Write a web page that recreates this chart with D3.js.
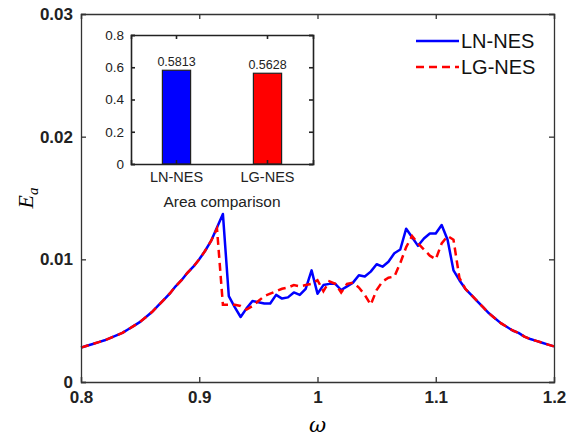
<!DOCTYPE html>
<html lang="en">
<head>
<meta charset="UTF-8">
<title>E_a vs omega</title>
<script src="https://d3js.org/d3.v7.min.js"></script>
<style>
  body { margin: 0; background: #fff; }
  text { font-family: Arial, "Liberation Sans", sans-serif; }
</style>
</head>
<body>
<div id="chart"></div>
<script>
// frequency grid
const omega = [
  0.80, 0.805, 0.81, 0.815, 0.82, 0.825, 0.83, 0.835, 0.84, 0.845,
  0.85, 0.855, 0.86, 0.865, 0.87, 0.875, 0.88, 0.885, 0.89, 0.895, 0.90,
  0.905, 0.91, 0.915, 0.92, 0.925, 0.93, 0.935, 0.94, 0.945, 0.95,
  0.955, 0.96, 0.965, 0.97, 0.975, 0.98, 0.985, 0.99, 0.995, 1.00,
  1.005, 1.01, 1.015, 1.02, 1.025, 1.03, 1.035, 1.04, 1.045, 1.05,
  1.055, 1.06, 1.065, 1.07, 1.075, 1.08, 1.085, 1.09, 1.095, 1.10,
  1.105, 1.11, 1.115, 1.12, 1.125, 1.13, 1.135, 1.14, 1.145, 1.15,
  1.155, 1.16, 1.165, 1.17, 1.175, 1.18, 1.185, 1.19, 1.195, 1.20
];
const lnNes = [
  0.0028, 0.00295, 0.0031, 0.00325, 0.0034, 0.0036, 0.0038, 0.0040, 0.0043, 0.0046,
  0.0049, 0.0053, 0.0057, 0.0062, 0.0067, 0.0072, 0.0078, 0.0083, 0.0089, 0.0094, 0.0100,
  0.0107, 0.0115, 0.0126, 0.0137, 0.0070, 0.0061, 0.0053, 0.0060, 0.0066, 0.0065,
  0.0064, 0.0064, 0.0071, 0.0068, 0.0069, 0.0073, 0.0071, 0.0076, 0.0091, 0.0072,
  0.0079, 0.0080, 0.0080, 0.0075, 0.0078, 0.0081, 0.0087, 0.0086, 0.0090, 0.0096,
  0.0094, 0.0098, 0.0105, 0.0108, 0.0125, 0.0118, 0.0111, 0.0117, 0.0121, 0.0121,
  0.0128, 0.0116, 0.0091, 0.0083, 0.0076, 0.0071, 0.0066, 0.0061, 0.0056, 0.0052,
  0.0048, 0.0045, 0.0042, 0.0040, 0.0037, 0.0035, 0.00335, 0.0032, 0.00305, 0.0029
];
const lgNes = [
  0.0028, 0.00295, 0.0031, 0.00325, 0.0034, 0.0036, 0.0038, 0.0040, 0.0043, 0.0046,
  0.0049, 0.0053, 0.0057, 0.0062, 0.0067, 0.0072, 0.0078, 0.0083, 0.0089, 0.0094, 0.0100,
  0.0107, 0.0115, 0.0125, 0.0063, 0.0063, 0.0063, 0.0062, 0.0059, 0.0062, 0.0066,
  0.0070, 0.0072, 0.0074, 0.0076, 0.0077, 0.0079, 0.0078, 0.0079, 0.0080, 0.0083,
  0.0074, 0.0082, 0.0080, 0.0073, 0.0080, 0.0081, 0.0077, 0.0071, 0.0063, 0.0075,
  0.0082, 0.0085, 0.0086, 0.0097, 0.0110, 0.0119, 0.0113, 0.0108, 0.0103, 0.0100,
  0.0113, 0.0119, 0.0116, 0.0085, 0.0076, 0.0071, 0.0066, 0.0061, 0.0056, 0.0052,
  0.0048, 0.0045, 0.0042, 0.0040, 0.0037, 0.0035, 0.00335, 0.0032, 0.00305, 0.0029
];
const xTicks = [0.8, 0.9, 1.0, 1.1, 1.2];
const yTicks = [0, 0.01, 0.02, 0.03];

// inset bar data
const barNames = ["LN-NES", "LG-NES"];
const barValues = [0.5813, 0.5628];
const barColors = ["#0000ff", "#ff0000"];
const insetTicks = [0, 0.2, 0.4, 0.6, 0.8];

const width = 567, height = 438;
const margin = { top: 14, right: 13, bottom: 56, left: 81 };

const svg = d3.select("#chart").append("svg")
  .attr("width", width)
  .attr("height", height);

const x = d3.scaleLinear().domain([0.8, 1.2]).range([margin.left, width - margin.right]);
const y = d3.scaleLinear().domain([0, 0.03]).range([height - margin.bottom, margin.top]);

const pts = (vals) => omega.map((w, i) => [w, vals[i]]);
const line = d3.line().x(d => x(d[0])).y(d => y(d[1]));

// curves
svg.append("path").datum(pts(lnNes))
  .attr("d", line).attr("fill", "none")
  .attr("stroke", "#0000ff").attr("stroke-width", 2.5)
  .attr("stroke-linejoin", "round");
svg.append("path").datum(pts(lgNes))
  .attr("d", line).attr("fill", "none")
  .attr("stroke", "#ff0000").attr("stroke-width", 2.5)
  .attr("stroke-dasharray", "8,5");

// main axes (ticks inward, box)
const tk = 5;
svg.append("g").attr("transform", `translate(0,${y(0)})`)
  .call(d3.axisBottom(x).tickValues(xTicks).tickFormat(d3.format("~g")).tickSize(-tk).tickPadding(9))
  .call(g => g.selectAll("text").attr("font-size", 17).attr("font-weight", "bold").attr("fill", "#222"));
svg.append("g").attr("transform", `translate(${x(0.8)},0)`)
  .call(d3.axisLeft(y).tickValues(yTicks).tickFormat(d3.format("~g")).tickSize(-tk).tickPadding(8))
  .call(g => g.selectAll("text").attr("font-size", 17).attr("font-weight", "bold").attr("fill", "#222"));
svg.append("g").attr("transform", `translate(0,${y(0.03)})`)
  .call(d3.axisTop(x).tickValues(xTicks).tickFormat("").tickSize(-tk));
svg.append("g").attr("transform", `translate(${x(1.2)},0)`)
  .call(d3.axisRight(y).tickValues(yTicks).tickFormat("").tickSize(-tk));
svg.selectAll(".domain, .tick line").attr("stroke", "#333").attr("stroke-width", 1.3);

// axis labels
svg.append("text").attr("x", x(1.0)).attr("y", 432)
  .attr("text-anchor", "middle").attr("font-size", 21)
  .attr("font-style", "italic").style("font-family", "'DejaVu Serif', serif")
  .text("ω");
svg.append("text")
  .attr("transform", `translate(33,${y(0.015)}) rotate(-90)`)
  .attr("text-anchor", "middle").attr("font-size", 22)
  .attr("font-style", "italic").style("font-family", "'Liberation Serif', serif")
  .call(t => {
    t.append("tspan").text("E");
    t.append("tspan").attr("font-size", 15).attr("dy", 5).text("a");
  });

// legend
const legend = [
  { name: "LN-NES", color: "#0000ff", dash: null },
  { name: "LG-NES", color: "#ff0000", dash: "8,5" }
];
legend.forEach((d, i) => {
  const ly = 41 + i * 26;
  svg.append("line").attr("x1", 416).attr("x2", 459).attr("y1", ly).attr("y2", ly)
    .attr("stroke", d.color).attr("stroke-width", 2.5)
    .attr("stroke-dasharray", d.dash);
  svg.append("text").attr("x", 461).attr("y", ly + 7)
    .attr("font-size", 20).attr("fill", "#111").text(d.name);
});

// inset bar chart
const inset = { left: 131, top: 35, right: 313, bottom: 164 };
const xb = d3.scaleBand().domain(barNames).range([inset.left, inset.right]);
const yb = d3.scaleLinear().domain([0, 0.8]).range([inset.bottom, inset.top]);
const bw = xb.bandwidth() * 0.31;

const ig = svg.append("g");
ig.append("rect").attr("x", inset.left).attr("y", inset.top)
  .attr("width", inset.right - inset.left).attr("height", inset.bottom - inset.top)
  .attr("fill", "#fff");
ig.selectAll("rect.bar").data(barValues).join("rect").attr("class", "bar")
  .attr("x", (d, i) => xb(barNames[i]) + xb.bandwidth() / 2 - bw / 2)
  .attr("y", d => yb(d))
  .attr("width", bw)
  .attr("height", d => yb(0) - yb(d))
  .attr("fill", (d, i) => barColors[i])
  .attr("stroke", "#222").attr("stroke-width", 1.2);
ig.selectAll("text.val").data(barValues).join("text").attr("class", "val")
  .attr("x", (d, i) => xb(barNames[i]) + xb.bandwidth() / 2)
  .attr("y", d => yb(d) - 4)
  .attr("text-anchor", "middle").attr("font-size", 12.5).attr("fill", "#222")
  .text(d => d3.format(".4f")(d));

ig.append("g").attr("transform", `translate(0,${inset.bottom})`)
  .call(d3.axisBottom(xb).tickSize(-4).tickPadding(8))
  .call(g => g.selectAll("text").attr("font-size", 14.5).attr("fill", "#222"));
ig.append("g").attr("transform", `translate(${inset.left},0)`)
  .call(d3.axisLeft(yb).tickValues(insetTicks).tickFormat(d3.format("~g")).tickSize(-4).tickPadding(7))
  .call(g => g.selectAll("text").attr("font-size", 13.5).attr("fill", "#222"));
ig.append("g").attr("transform", `translate(0,${inset.top})`)
  .call(d3.axisTop(xb).tickSize(-4).tickFormat(""));
ig.append("g").attr("transform", `translate(${inset.right},0)`)
  .call(d3.axisRight(yb).tickValues(insetTicks).tickSize(-4).tickFormat(""));
ig.selectAll(".domain, .tick line").attr("stroke", "#222").attr("stroke-width", 1.6);
ig.append("text").attr("x", (inset.left + inset.right) / 2).attr("y", 207)
  .attr("text-anchor", "middle").attr("font-size", 15.5).attr("fill", "#222")
  .text("Area comparison");
</script>
</body>
</html>
